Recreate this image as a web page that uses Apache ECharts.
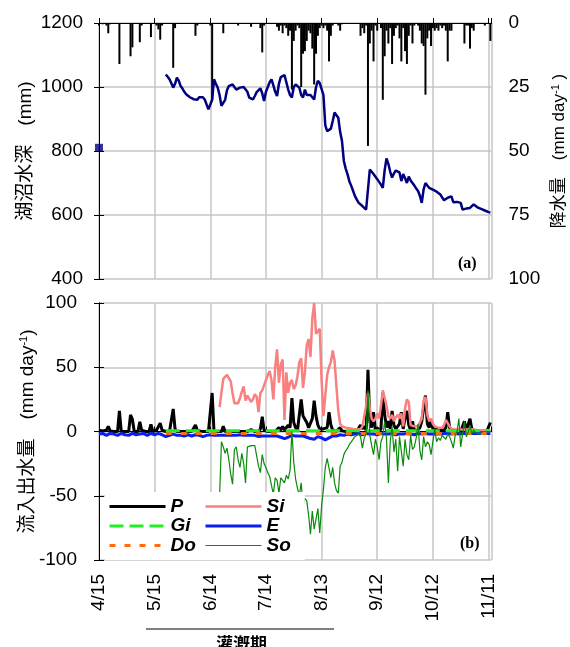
<!DOCTYPE html>
<html>
<head>
<meta charset="utf-8">
<script src="https://cdn.jsdelivr.net/npm/echarts@6/dist/echarts.min.js"></script>
<style>
  html, body { margin: 0; padding: 0; background: #fff; }
  #chart { width: 570px; height: 647px; }
</style>
</head>
<body>
<div id="chart"></div>
<script>
  // x axis: days counted from 4/15
  const xTickLabels = ['4/15', '5/15', '6/14', '7/14', '8/13', '9/12', '10/12', '11/11'];

  // daily precipitation P (mm/day), day 0..211
  const precip = [
    1, 0, 0.5, 0, 1, 4, 0.5, 0, 0, 0,
    0, 16, 0, 0, 0, 0, 0, 13, 9.5, 0,
    0, 0, 7.5, 1, 0, 0, 0, 0, 5.5, 0,
    0, 1, 2.5, 6.5, 1, 0, 0, 0, 0, 0,
    17.5, 2, 0, 0, 0, 0, 0, 0, 0, 0,
    0, 0, 5, 1, 0, 0, 0, 0, 0, 0,
    1, 30, 0, 0, 0, 0, 0, 4, 0, 0,
    0, 0, 0, 0, 0, 1, 0, 0, 0, 0,
    0, 0, 1.5, 0, 0, 0, 0, 2, 11.5, 1,
    0, 0, 0, 0, 0, 0, 1.5, 3, 1, 4,
    1, 2, 5, 3, 26, 7, 3, 1, 2, 25,
    12, 11, 7, 3, 4, 10, 24, 12, 5, 2,
    1, 2, 1, 3, 15, 5, 1, 0, 0, 1,
    3, 0.5, 0, 0, 0, 0, 0, 0, 0, 0,
    0, 5, 2, 4, 1, 48, 8, 3, 15, 1,
    3, 0, 2, 30, 13, 3, 8, 2, 16, 5,
    2, 1, 6, 15, 2, 11, 16, 5, 1, 8,
    1, 0, 1, 3, 8, 9, 28, 6, 3, 9,
    2, 3, 2, 3, 1, 2, 1, 3, 15, 3,
    3, 0, 0, 0, 0, 0, 0, 8, 1, 1,
    10, 2, 3, 0, 0, 0, 0, 0, 1, 0,
    0, 7
  ];

  // lake water depth (mm), day 36..211, plus the single early reading
  const depthStart = 36;
  const depth = [
    1039, 1032, 1024, 1012,
    998, 1010, 1029, 1020, 1003, 995, 985, 977, 972, 968,
    966, 962, 956, 960, 968, 972, 968, 961, 955, 930,
    925, 960, 1024, 1010, 998, 975, 941, 943, 960, 990,
    1003, 1005, 1008, 1000, 992, 995, 998, 996, 1000, 1003,
    985, 967, 963, 961, 972, 984, 990, 996, 980, 956,
    985, 1000, 1015, 1024, 1005, 985, 972, 1010, 1031, 1035,
    1037, 1015, 992, 975, 967, 1000, 1008, 1003, 998, 975,
    967, 992, 975, 970, 975, 968, 961, 1000, 1019, 1012,
    1010, 975, 880, 862, 866, 870, 894, 920, 912, 904,
    860, 831, 769, 745, 727, 705, 691, 675, 659, 648,
    638, 632, 628, 622, 617, 612, 742, 735, 728, 722,
    712, 706, 695, 685, 740, 777, 760, 735, 717, 730,
    739, 736, 733, 706, 728, 715, 700, 720, 708, 700,
    692, 683, 675, 660, 638, 680, 700, 692, 685, 681,
    679, 677, 673, 668, 664, 655, 646, 650, 654, 657,
    658, 640, 642, 641, 640, 638, 617, 618, 620, 621,
    622, 628, 633, 628, 624, 622, 619, 616, 614, 612,
    609, 608
  ];
  const firstDepthDay = [0];
  const firstDepth = [810];

  // surface inflow Si and surface outflow So (mm/day), day 65..211
  const flowStart = 65;
  const si = [
    19, 30, 41, 42, 44,
    43, 39, 30, 22, 22, 22, 26, 31, 35, 24,
    28, 27, 23, 25, 29, 27, 15, 30, 32, 33,
    40, 44, 47, 40, 25, 50, 64, 38, 52, 56,
    9, 46, 30, 38, 40, 33, 36, 43, 54, 57,
    34, 46, 67, 72, 58, 88, 100, 76, 77, 80,
    40, 12, 28, 44, 50, 54, 63, 55, 35, 16,
    6, 4, 3.5, 3, 3, 2.5, 2.5, 2, 1.5, 1.5,
    1, 2, 4, 3, 20, 30, 18, 10, 8, 10,
    14, 10, 20, 32, 31, 20, 12, 10, 13, 8,
    11, 13, 10, 14, 4, 18, 25, 23, 5, 4,
    4, 3, 4, 3, 10, 24, 27, 13, 8, 10,
    6, 4, 3, 3, 2, 3, 5, 9, 10, 4,
    2, 2, 1.5, 1.5, 1.5, 1.5, 1.5, 2, 1.5, 1.5,
    2, 1.5, 1.5, 1, 1, 1, 1, 1, 1, 1,
    1, 1
  ];
  const so = [
    -51, -8, -12, -17, -13,
    -22, -33, -41, -14, -12, -22, -28, -17, -25, -40,
    -12, -13, -11, -10, -11, -19, -27, -32, -18, -25,
    -28, -32, -35, -34, -49, -36, -38, -48, -36, -38,
    -40, -34, -37, -30, 0, -24, -37, -44, -50, -40,
    -58, -52, -54, -65, -80, -62, -76, -68, -60, -79,
    -58, -45, -28, -21, -22, -36, -28, -40, -46, -48,
    -27, -24, -18, -15, -13, -10, -8, -6, -4, -3,
    -2, -4, -13, -5, -2, 32, -3, -11, -18, -6,
    -12, -22, -8, -4, 8, -6, -40, -8, 4, -16,
    -6, -31, -4, -3, -27, -6, -18, -22, -3, -14,
    -12, -5, 6, -15, -22, -4, -12, -8, -10, -18,
    -8, 2, -8, -5, -7, -3, -4, -6, -2, -4,
    -8, -13, -3, 0, 10, -12, -2, 8, -4, -1,
    5, -2, 1, -1, 0, -2, -1, 0, -1, 0,
    -1, 0
  ];

  // evaporation E (mm/day), day 0..211
  const evap = [
    -2, -2.5, -1.5, -2, -3, -2.5, -1.5, -2, -2, -2.5,
    -3, -2, -1.5, -2, -2.5, -2, -3, -2.5, -1.5, -2,
    -2.5, -3, -2, -2, -1.5, -2.5, -3, -2, -1.5, -2,
    -2.5, -2, -1.5, -2, -2.5, -3.5, -4, -5, -3, -2.5,
    -2, -2.5, -3, -3.5, -3, -3, -3.5, -3, -2.5, -3,
    -3.5, -3, -2.5, -3, -3, -3.5, -4, -3.5, -3, -3.5,
    -2.5, -2, -3, -3.5, -3, -2.5, -3, -2.5, -3, -3.5,
    -3, -2.5, -3, -3.5, -3, -3, -2.5, -3, -3, -2.5,
    -3, -3.5, -3, -2.5, -3, -3.5, -4, -4, -3.5, -3,
    -3.5, -3, -3.5, -4, -3.5, -3, -3.5, -4, -4.5, -5,
    -5.5, -5, -4.5, -3.5, -3, -4, -3.5, -3, -3.5, -3,
    -3.5, -4, -4.5, -5, -5.5, -6, -6, -5.5, -4, -3.5,
    -5, -6.5, -6.5, -6, -5, -4, -3.5, -3, -3.5, -3,
    -2.5, -2.5, -3, -2.5, -2, -2, -2.5, -2, -2, -2,
    -1.5, -2, -2.5, -2, -1.5, -1, -2, -2.5, -2, -2,
    -2.5, -2, -1.5, -1, -2, -2.5, -2, -1.5, -1.5, -2,
    -2.5, -2, -2, -1.5, -2, -2.5, -1.5, -1.5, -2, -2,
    -2.5, -2, -1.5, -2, -2, -2.5, -1.5, -2, -2, -1.5,
    -2, -2.5, -2, -1.5, -2, -2, -1.5, -2, -1.5, -2,
    -2, -1.5, -1.5, -2, -2, -1.5, -1.5, -2, -1.5, -1.5,
    -1.5, -2, -1.5, -1.5, -1.5, -2, -1.5, -1.5, -1.5, -1.5,
    -1.5, -1.5
  ];

  // groundwater inflow Gi and drainage Do: flat lines
  const giDays = [36, 211];
  const giVals = [0.5, 0.5];
  const doDays = [36, 211];
  const doVals = [-1.5, -1.5];

  const seq = (start, vals) => vals.map((v, i) => [start + i, v]);
  const pairs = (days, vals) => days.map((d, i) => [d, vals[i]]);

  const FONT = "'Liberation Sans', 'Noto Sans CJK JP', sans-serif";
  const GRID_COLOR = '#c6c6c6';
  const X_MAX = 211.6;

  const labelStyle = { color: '#000', fontFamily: FONT, fontSize: 19, formatter: (v) => String(v) };
  const nameStyle = (size) => ({
    color: '#000',
    fontFamily: FONT,
    fontSize: size,
    rich: { sup: { fontFamily: FONT, fontSize: 11, verticalAlign: 'top', color: '#000' } }
  });
  const blackLine = { show: true, lineStyle: { color: '#000', width: 1 } };
  const inTick = { show: true, inside: true, length: 5, lineStyle: { color: '#000' } };
  const gridSplit = { show: true, lineStyle: { color: GRID_COLOR, width: 1.5 } };

  const xBase = (gridIndex) => ({
    gridIndex,
    type: 'value',
    min: 0,
    max: X_MAX,
    interval: 30,
    axisLine: blackLine,
    axisTick: inTick,
    splitLine: gridSplit
  });

  const frameX = (gridIndex) => ({
    gridIndex, type: 'value', position: 'top', min: 0, max: X_MAX,
    axisLine: blackLine, axisTick: { show: false }, axisLabel: { show: false }, splitLine: { show: false }
  });

  const legendText = { color: '#000', fontFamily: FONT, fontSize: 19, fontWeight: 'bold', fontStyle: 'italic', lineHeight: 18 };
  const legendBase = {
    top: 492, orient: 'vertical',
    itemWidth: 56, itemHeight: 14, itemGap: 0.5,
    backgroundColor: '#fff',
    selectedMode: false,
    itemStyle: { opacity: 0 },
    lineStyle: { width: 'inherit' },
    textStyle: legendText
  };

  const chart = echarts.init(document.getElementById('chart'));

  chart.setOption({
    animation: false,
    backgroundColor: '#fff',
    grid: [
      { left: 99, right: 78.5, top: 23, height: 256, containLabel: false, outerBoundsMode: 'none' },
      { left: 99, right: 78.5, top: 303, height: 257, containLabel: false, outerBoundsMode: 'none' }
    ],
    xAxis: [
      Object.assign(xBase(0), { axisLabel: { show: false } }),
      Object.assign(xBase(1), {
        axisLabel: Object.assign({}, labelStyle, {
          rotate: 90,
          margin: 14,
          formatter: (v) => (v % 30 === 0 ? xTickLabels[v / 30] : '')
        })
      }),
      frameX(0),
      frameX(1)
    ],
    yAxis: [
      {
        gridIndex: 0, type: 'value', position: 'left',
        min: 400, max: 1200, interval: 200,
        axisLine: blackLine, axisTick: inTick, splitLine: gridSplit,
        axisLabel: Object.assign({}, labelStyle, { margin: 16 }),
        name: '湖沼水深\u3000(mm)', nameLocation: 'middle', nameGap: 63.5, nameRotate: 90,
        nameMoveOverlap: false,
        nameTextStyle: nameStyle(19)
      },
      {
        gridIndex: 0, type: 'value', position: 'right', inverse: true,
        min: 0, max: 100, interval: 25,
        axisLine: blackLine, axisTick: inTick, splitLine: { show: false },
        axisLabel: Object.assign({}, labelStyle, { margin: 17 }),
        name: '降水量\u3000(mm day{sup|-1} )', nameLocation: 'middle', nameGap: 59, nameRotate: 90,
        nameMoveOverlap: false,
        nameTextStyle: nameStyle(17)
      },
      {
        gridIndex: 1, type: 'value', position: 'left',
        min: -100, max: 100, interval: 50,
        axisLine: blackLine, axisTick: inTick, splitLine: gridSplit,
        axisLabel: Object.assign({}, labelStyle, { margin: 22 }),
        name: '流入出水量\u3000(mm day{sup|-1})', nameLocation: 'middle', nameGap: 62, nameRotate: 90,
        nameMoveOverlap: false,
        nameTextStyle: nameStyle(19)
      },
      {
        gridIndex: 1, type: 'value', position: 'right',
        min: -100, max: 100, interval: 50,
        axisLine: blackLine, axisTick: inTick, splitLine: { show: false },
        axisLabel: { show: false }
      }
    ],
    legend: [
      Object.assign({}, legendBase, {
        left: 105,
        padding: [5, 14, 5, 3],
        data: ['P', 'Gi', 'Do']
      }),
      Object.assign({}, legendBase, {
        left: 194,
        padding: [5, 14, 5, 10],
        data: ['Si', 'E', 'So']
      })
    ],
    graphic: [
      { type: 'text', left: 458, top: 256, style: { text: '(a)', font: "bold 16px 'Liberation Serif', serif", fill: '#000' } },
      { type: 'text', left: 460, top: 536, style: { text: '(b)', font: "bold 16px 'Liberation Serif', serif", fill: '#000' } },
      { type: 'line', shape: { x1: 146, y1: 629, x2: 334, y2: 629 }, style: { stroke: '#000', lineWidth: 1 } },
      { type: 'text', left: 216, top: 635, style: { text: '灌漑期', font: "bold 17px 'Noto Sans CJK JP', sans-serif", fill: '#000' } }
    ],
    series: [
      {
        name: 'rain', type: 'custom', xAxisIndex: 0, yAxisIndex: 1,
        encode: { x: 0, y: 1 },
        renderItem: (params, api) => {
          const base = api.coord([api.value(0), 0]);
          const tip = api.coord([api.value(0), api.value(1)]);
          return {
            type: 'rect',
            shape: { x: base[0] - 1, y: base[1], width: 2, height: tip[1] - base[1] },
            style: { fill: '#000' }
          };
        },
        data: seq(0, precip)
      },
      {
        name: 'depth', type: 'line', xAxisIndex: 0, yAxisIndex: 0,
        symbol: 'none', lineStyle: { color: '#000080', width: 2.5 },
        data: seq(depthStart, depth)
      },
      {
        name: 'depth0', type: 'scatter', xAxisIndex: 0, yAxisIndex: 0,
        symbol: 'rect', symbolSize: 8, clip: false, itemStyle: { color: '#000080' },
        data: pairs(firstDepthDay, firstDepth)
      },
      {
        name: 'P', type: 'line', xAxisIndex: 1, yAxisIndex: 2,
        symbol: 'none', color: '#000', lineStyle: { color: '#000', width: 3 },
        data: seq(0, precip)
      },
      {
        name: 'Si', type: 'line', xAxisIndex: 1, yAxisIndex: 2,
        symbol: 'none', color: '#f88080', lineStyle: { color: '#f88080', width: 2.5 },
        data: seq(flowStart, si)
      },
      {
        name: 'E', type: 'line', xAxisIndex: 1, yAxisIndex: 2,
        symbol: 'none', color: '#0a1ef0', lineStyle: { color: '#0a1ef0', width: 3 },
        data: seq(0, evap)
      },
      {
        name: 'Do', type: 'line', xAxisIndex: 1, yAxisIndex: 2,
        symbol: 'none', color: '#ff6a10', lineStyle: { color: '#ff6a10', width: 3, type: [6, 9] },
        data: pairs(doDays, doVals)
      },
      {
        name: 'Gi', type: 'line', xAxisIndex: 1, yAxisIndex: 2,
        symbol: 'none', color: '#22ee22', lineStyle: { color: '#22ee22', width: 3, type: [14, 6] },
        data: pairs(giDays, giVals)
      },
      {
        name: 'So', type: 'line', xAxisIndex: 1, yAxisIndex: 2,
        symbol: 'none', color: '#0a8a0a', lineStyle: { color: '#0a8a0a', width: 1.2 },
        data: seq(flowStart, so)
      }
    ]
  });
</script>
</body>
</html>
